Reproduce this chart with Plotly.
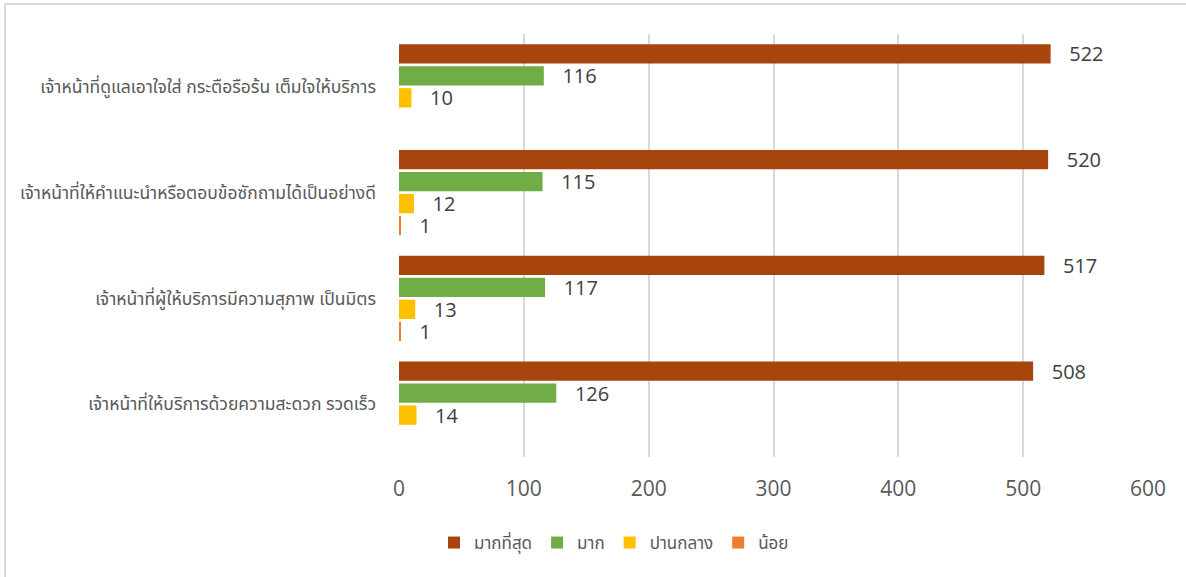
import plotly.graph_objects as go

# Survey items, listed top to bottom as shown on the chart
categories = [
    "เจ้าหน้าที่ดูแลเอาใจใส่ กระตือรือร้น เต็มใจให้บริการ",
    "เจ้าหน้าที่ให้คำแนะนำหรือตอบข้อซักถามได้เป็นอย่างดี",
    "เจ้าหน้าที่ผู้ให้บริการมีความสุภาพ เป็นมิตร",
    "เจ้าหน้าที่ให้บริการด้วยความสะดวก รวดเร็ว",
]

# Response counts per satisfaction level
most = [522, 520, 517, 508]
much = [116, 115, 117, 126]
moderate = [10, 12, 13, 14]
little = [0, 1, 1, 0]

series_names = ["มากที่สุด", "มาก", "ปานกลาง", "น้อย"]
x_ticks = [0, 100, 200, 300, 400, 500, 600]

series = [most, much, moderate, little]
colors = ["#A8450F", "#70AD47", "#FFC000", "#ED7D31"]

W, H = 1186, 577
ML, MR, MT, MB = 399, 38, 34, 120

fig = go.Figure()
pad = "\u00a0" * 3
for name, vals, col in zip(series_names, series, colors):
    fig.add_trace(go.Bar(
        y=categories,
        x=vals,
        name=name,
        orientation="h",
        marker=dict(color=col, line=dict(width=0)),
        text=[f"{pad}{v}" if v else "" for v in vals],
        textposition="outside",
        constraintext="none",
        cliponaxis=False,
        textfont=dict(size=20, color="#404040", family="Open Sans, Lato, sans-serif"),
    ))

# Light frame around the chart area (left and top edges visible)
pw = W - ML - MR
ph = H - MT - MB
fig.add_shape(
    type="rect", xref="paper", yref="paper",
    x0=(5 - ML) / pw, x1=(W + 10 - ML) / pw,
    y0=-(H + 10 - MT - ph) / ph, y1=(ph + MT - 4) / ph,
    line=dict(color="#D9D9D9", width=2), fillcolor="rgba(0,0,0,0)",
    layer="below",
)

fig.update_layout(
    width=W, height=H,
    margin=dict(l=ML, r=MR, t=MT, b=MB),
    paper_bgcolor="white",
    plot_bgcolor="white",
    barmode="group",
    bargap=0.17,
    bargroupgap=0.12,
    font=dict(family="Tahoma, Noto Sans Thai, DejaVu Sans, sans-serif", color="#595959"),
    xaxis=dict(
        range=[0, 600],
        tickvals=x_ticks,
        showgrid=True, gridcolor="#D9D9D9", gridwidth=2,
        zeroline=False, showline=False,
        ticklabelstandoff=17,
        tickfont=dict(size=21, color="#595959", family="Open Sans, Lato, sans-serif"),
        fixedrange=True,
    ),
    yaxis=dict(
        autorange="reversed",
        showgrid=False, zeroline=False, showline=False,
        ticklabelstandoff=22,
        tickfont=dict(size=17.5, color="#595959"),
    ),
    legend=dict(
        orientation="h",
        xref="container", yref="container",
        x=614 / W, xanchor="center",
        y=1 - 543 / H, yanchor="middle",
        font=dict(size=17, color="#595959"),
        itemwidth=30,
        traceorder="normal",
    ),
    showlegend=True,
)

fig.write_html("out.html")
